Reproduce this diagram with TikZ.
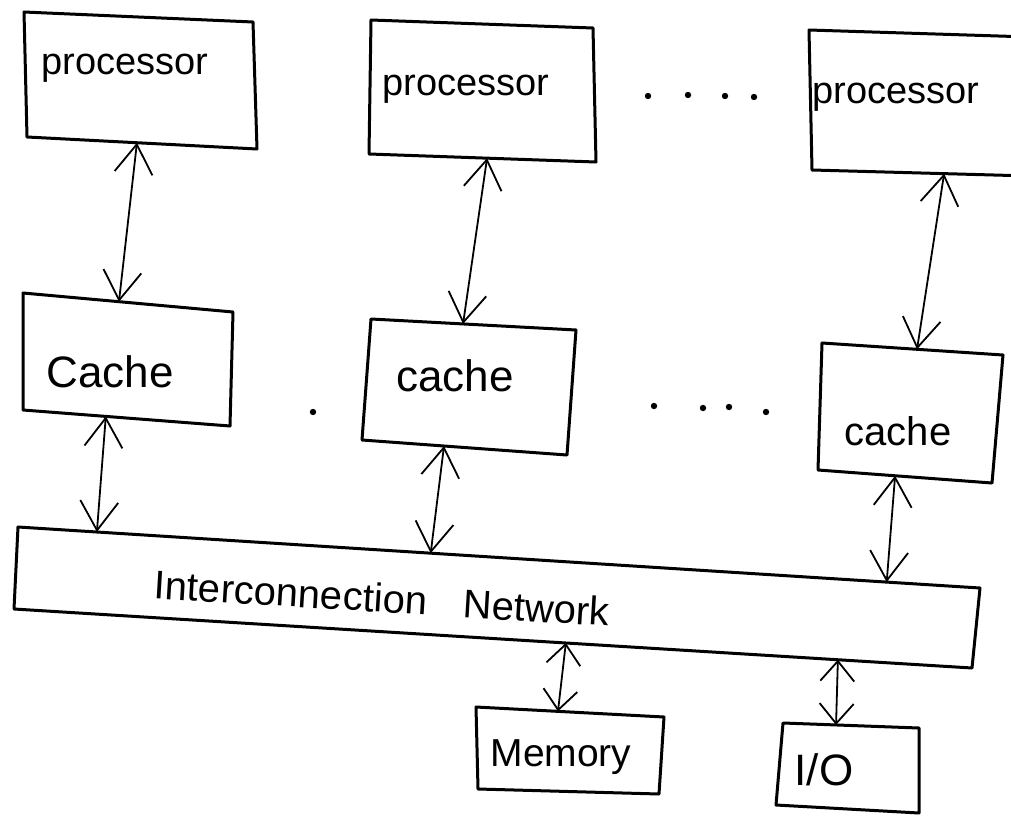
\documentclass[tikz,border=0pt]{standalone}
\usepackage{fontspec}
\setmainfont{Liberation Sans}
\usetikzlibrary{arrows.meta}

% four-corner box: name, top-left, top-right, bottom-right, bottom-left
\newcommand\handbox[5]{%
  \draw[boxline] #2 coordinate (#1-tl) -- #3 coordinate (#1-tr)
    -- #4 coordinate (#1-br) -- #5 coordinate (#1-bl) -- cycle;}

\begin{document}
\begin{tikzpicture}[x=1pt,y=-1pt,
  boxline/.style={line width=3pt, line join=round},
  link/.style={line width=1.8pt, {Straight Barb[length=29pt,width=38pt]}-{Straight Barb[length=29pt,width=38pt]}},
  shortlink/.style={line width=1.8pt, {Straight Barb[length=20pt,width=34pt]}-{Straight Barb[length=20pt,width=34pt]}},
  label/.style={inner sep=0pt, font=\fontsize{38}{42}\selectfont},
  dot/.style={fill=black}]
\useasboundingbox (0,0) rectangle (1011,816);

% processors
\handbox{p1}{(24,12)}{(253,22)}{(257,149)}{(27,137)}
\handbox{p2}{(371,20)}{(593,28)}{(596,162)}{(369,154)}
\handbox{p3}{(809,30)}{(1030,37)}{(1030,176)}{(812,170)}
\node[label] (p1t) at (125,68) {processor};
\node[label] (p2t) at (466,89) {processor};
\node[label] (p3t) at (896,97) {processor};

% caches
\handbox{c1}{(23,293)}{(233,312)}{(230,426)}{(23,410)}
\handbox{c2}{(371,319)}{(576,330)}{(567,455)}{(362,440)}
\handbox{c3}{(822,343)}{(1003,355)}{(992,483)}{(818,470)}
\node[label, font=\fontsize{44}{48}\selectfont] (c1t) at (110,372) {Cache};
\node[label, font=\fontsize{44}{48}\selectfont] (c2t) at (455,376) {cache};
\node[label, font=\fontsize{40}{44}\selectfont] (c3t) at (898,431) {cache};

% interconnection network
\handbox{net}{(18,527)}{(980,588)}{(972,668)}{(14,609)}
\node[label, font=\fontsize{40}{44}\selectfont, rotate=-3.5] (nett) at (382,598)
  {Interconnection\hspace{36pt}Network};

% memory and I/O
\handbox{mem}{(476,707)}{(664,717)}{(659,794)}{(478,789)}
\handbox{io}{(783,723)}{(919,728)}{(919,813)}{(776,805)}
\node[label, font=\fontsize{39}{44}\selectfont] (memt) at (561,757) {Memory};
\node[label, font=\fontsize{44}{48}\selectfont] (iot) at (824,770) {I/O};

% attachment points on the box edges
\path (p1-bl) -- (p1-br) coordinate[pos=.478] (p1-s);
\path (p2-bl) -- (p2-br) coordinate[pos=.52] (p2-s);
\path (p3-bl) -- (p3-br) coordinate[pos=.606] (p3-s);
\path (c1-tl) -- (c1-tr) coordinate[pos=.457] (c1-n);
\path (c2-tl) -- (c2-tr) coordinate[pos=.449] (c2-n);
\path (c3-tl) -- (c3-tr) coordinate[pos=.525] (c3-n);
\path (c1-bl) -- (c1-br) coordinate[pos=.40] (c1-s);
\path (c2-bl) -- (c2-br) coordinate[pos=.40] (c2-s);
\path (c3-bl) -- (c3-br) coordinate[pos=.443] (c3-s);
\path (net-tl) -- (net-tr) coordinate[pos=.082] (net-n1)
                           coordinate[pos=.429] (net-n2)
                           coordinate[pos=.903] (net-n3);
\path (net-bl) -- (net-br) coordinate[pos=.576] (net-s1)
                           coordinate[pos=.86] (net-s2);
\path (mem-tl) -- (mem-tr) coordinate[pos=.436] (mem-n);
\path (io-tl) -- (io-tr) coordinate[pos=.39] (io-n);

% two-way links
\draw[link] (p1-s) -- (c1-n);
\draw[link] (p2-s) -- (c2-n);
\draw[link] (p3-s) -- (c3-n);
\draw[link] (c1-s) -- (net-n1);
\draw[link] (c2-s) -- (net-n2);
\draw[link] (c3-s) -- (net-n3);
\draw[shortlink] (net-s1) -- (mem-n);
\draw[shortlink] (net-s2) -- (io-n);

% ellipsis dots between the columns
\foreach \x/\y in {648/96, 688/95, 725/96, 754/97}
  \fill[dot] (\x,\y) circle (3.2pt);
\foreach \x/\y in {313/412, 654/406, 703/408, 729/407, 766/412}
  \fill[dot] (\x,\y) circle (3.2pt);
\end{tikzpicture}
\end{document}
